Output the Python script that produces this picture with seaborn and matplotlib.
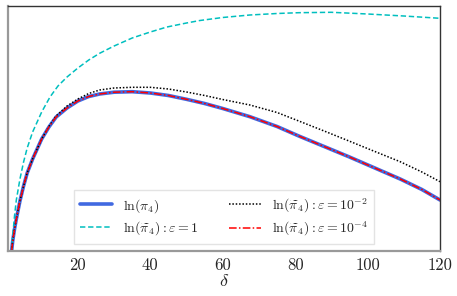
import numpy as np
import pandas as pd
import matplotlib
matplotlib.use('Agg')
import matplotlib.pyplot as plt
import seaborn as sns

# values (arbitrary y units, no y tick labels shown)
delta_exact = [1.7, 2, 2.5, 3, 4, 5, 6, 7.5, 8.5, 10, 12, 14, 17, 20, 23, 26, 30, 35, 40,
               45, 50, 55, 60, 67.5, 75, 81, 88, 95, 102, 109, 115, 120]
ln_pi4 = [0, 10, 22, 32, 50, 65, 78, 92, 100, 112, 124, 134, 143, 150, 154.5, 157, 158.8, 159.3, 158,
          155.5, 151.7, 147.5, 142.5, 134.3, 124.5, 115, 104.5, 94, 83, 72, 61.5, 51]

delta_eps2 = [1.7, 2, 2.5, 3, 4, 5, 6, 7.5, 8.5, 10, 12, 14, 17, 20, 23, 26, 30, 35, 40,
              45, 50, 55, 60, 67.5, 75, 81, 88, 95, 102, 109, 115, 120]
ln_pi4_eps2 = [0, 10, 22, 32, 50, 65, 78, 92, 100, 112, 124.5, 135, 145, 152, 157.5, 161, 163, 163.7, 163.7,
               162, 159, 155.5, 151.5, 146, 138.5, 130, 120, 109.8, 99.5, 89.3, 79, 69.3]

delta_eps1 = [1.7, 2, 2.5, 3, 4, 5, 6, 7.5, 10, 12.3, 14.5, 17, 20, 23, 26, 30, 35, 40,
              44.6, 50, 53.7, 60, 67.5, 75, 81, 90, 100, 110, 120]
ln_pi4_eps1 = [0, 15, 35, 51, 72, 89, 103, 119, 139, 154, 165, 174, 183, 191, 197.7, 205, 213, 219,
               224, 228, 230.5, 233.5, 236, 237.5, 238.3, 238.7, 237, 235, 232.7]

labels = [r'$\ln(\pi_4)$',
          r'$\ln(\widetilde{\pi}_4) : \varepsilon = 1$',
          r'$\ln(\widetilde{\pi}_4) : \varepsilon = 10^{-2}$',
          r'$\ln(\widetilde{\pi}_4) : \varepsilon = 10^{-4}$']

sns.set_style('white')
plt.rcParams['font.family'] = 'serif'
plt.rcParams['font.serif'] = ['cmr10', 'DejaVu Serif']
plt.rcParams['mathtext.fontset'] = 'cm'
plt.rcParams['axes.unicode_minus'] = False

fig = plt.figure(figsize=(4.57, 2.96), dpi=100)
ax = fig.add_axes([8 / 457, 1 - 251 / 296, 432 / 457, 245.5 / 296])

sns.lineplot(x=delta_exact, y=ln_pi4, ax=ax, color='royalblue', lw=2.6, label=labels[0])
sns.lineplot(x=delta_eps1, y=ln_pi4_eps1, ax=ax, color='c', lw=1.1, ls=(0, (3.5, 1.8)), label=labels[1])
sns.lineplot(x=delta_eps2, y=ln_pi4_eps2, ax=ax, color='black', lw=1.1, ls=(0, (1, 1.2)), label=labels[2])
sns.lineplot(x=delta_exact, y=ln_pi4, ax=ax, color='red', lw=1.1, ls=(0, (5, 1.5, 1, 1.5)), label=labels[3])

ax.set_xlim(0.7, 120)
ax.set_ylim(0, 245.5)
ax.set_xticks([20, 40, 60, 80, 100, 120])
ax.set_yticks([])
ax.tick_params(axis='x', labelsize=12, length=3, width=0.8, color='#999999', pad=2)
ax.set_xlabel(r'$\delta$', fontsize=13, labelpad=0)

for side in ['left', 'bottom']:
    ax.spines[side].set_color('#999999')
    ax.spines[side].set_linewidth(1.6)
for side in ['top', 'right']:
    ax.spines[side].set_color('#333333')
    ax.spines[side].set_linewidth(1.0)

leg = ax.legend(loc='lower center', bbox_to_anchor=(0.5, 0.0), ncol=2, fontsize=10,
                frameon=True, fancybox=False, columnspacing=2.2, handlelength=2.3,
                handletextpad=0.8, borderpad=0.45, labelspacing=0.35, borderaxespad=0.5)
leg.get_frame().set_edgecolor('#dddddd')
leg.get_frame().set_linewidth(1.0)

fig.savefig('out.png', dpi=100)
